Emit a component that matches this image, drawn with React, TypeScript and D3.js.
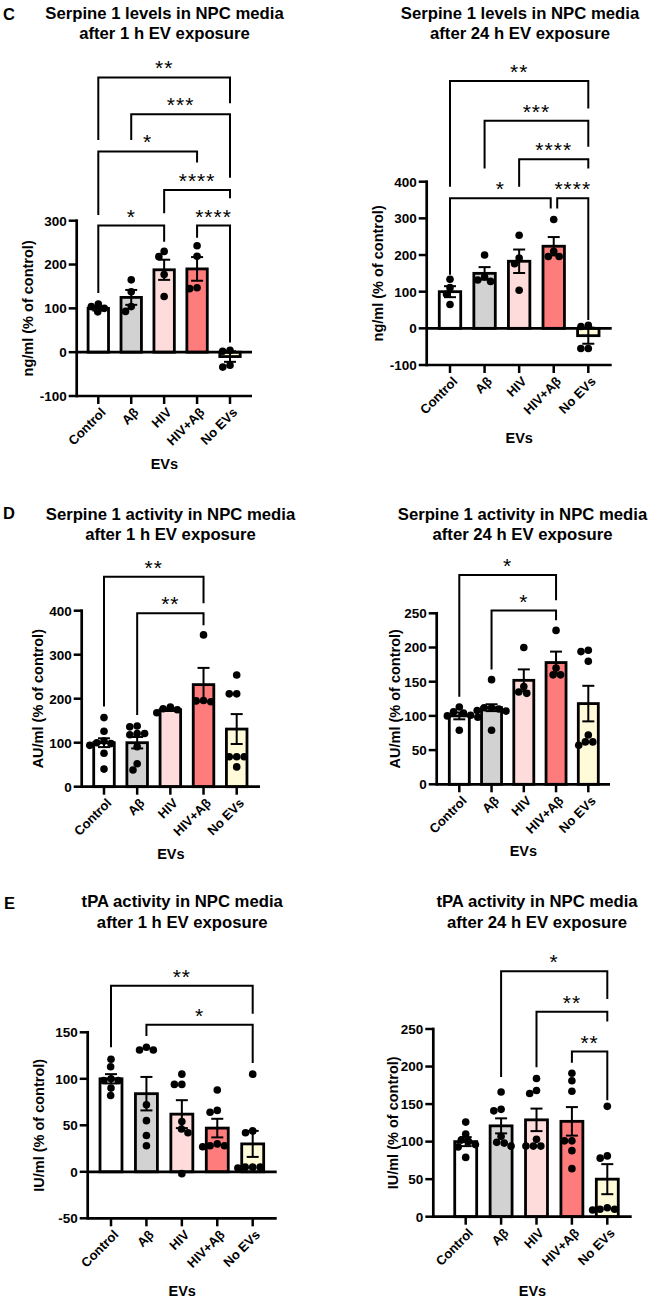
import React from 'react';
import * as d3 from 'd3';

const categories = ['Control', 'Aβ', 'HIV', 'HIV+Aβ', 'No EVs'];
const barColors = ['#ffffff', '#d2d2d2', '#ffdcdc', '#ff7c7c', '#fffbd9'];

// ---- Panel C, 1 h ----
const c1Points = [[92, 100, 104, 110], [93, 104, 138, 165], [218, 127, 177, 230], [219, 145, 243, 147], [2, 4, -34, -30]];
const c1Means = [100, 125, 188, 190, -10];
const c1Sems = [5, 17, 23, 27, 12];
const c1Ticks = [-100, 0, 100, 200, 300];
const c1Brackets = [
  { from: 0, to: 4, label: '**', level: 627, leftEnd: 484, rightEnd: 568 },
  { from: 1, to: 4, label: '***', level: 543, leftEnd: 484, rightEnd: 398 },
  { from: 0, to: 3, label: '*', level: 458, leftEnd: 313, rightEnd: 433 },
  { from: 2, to: 4, label: '****', level: 370, leftEnd: 317, rightEnd: 351 },
  { from: 0, to: 2, label: '*', level: 289, leftEnd: 135, rightEnd: 252 },
  { from: 3, to: 4, label: '****', level: 289, leftEnd: 261, rightEnd: 22 },
];

// ---- Panel C, 24 h ----
const c2Points = [[111, 134, 93, 65], [200, 132, 140, 128], [254, 192, 176, 104], [297, 196, 210, 196], [5, 8, -55, -55]];
const c2Means = [100, 150, 183, 224, -20];
const c2Sems = [15, 17, 32, 25, 22];
const c2Ticks = [-100, 0, 100, 200, 300, 400];
const c2Brackets = [
  { from: 0, to: 4, label: '**', level: 675, leftEnd: 386, rightEnd: 600 },
  { from: 1, to: 4, label: '***', level: 566, leftEnd: 436, rightEnd: 495 },
  { from: 2, to: 4, label: '****', level: 461, leftEnd: 386, rightEnd: 436 },
  { from: 0, to: 3, label: '*', level: 355, leftEnd: 146, rightEnd: 327, dxRight: -3 },
  { from: 3, to: 4, label: '****', level: 355, leftEnd: 327, rightEnd: 23, dxLeft: 3.5 },
];

// ---- Panel D, 1 h ----
const d1Points = [[157, 126, 104, 100, 98, 94, 76, 40], [138, 136, 121, 121, 118, 91, 52, 38], [181, 177, 175, 168], [345, 193, 195, 196], [254, 211, 211, 68, 68, 68, 45]];
const d1Means = [100, 100, 175, 232, 131];
const d1Sems = [10, 13, 3, 38, 34];
const d1Ticks = [0, 100, 200, 300, 400];
const d1Brackets = [
  { from: 0, to: 3, label: '**', level: 477, leftEnd: 182, rightEnd: 417 },
  { from: 1, to: 3, label: '**', level: 394, leftEnd: 163, rightEnd: 367 },
];

// ---- Panel D, 24 h ----
const d2Points = [[113, 106, 104, 101, 100, 98, 79], [153, 112, 110, 112, 108, 107, 79], [200, 143, 133, 135], [225, 170, 160, 160], [196, 194, 180, 72, 57, 62, 62]];
const d2Means = [100, 112, 152, 178, 118];
const d2Sems = [5, 5, 16, 16, 26];
const d2Ticks = [0, 50, 100, 150, 200, 250];
const d2Brackets = [
  { from: 0, to: 3, label: '*', level: 306, leftEnd: 128, rightEnd: 269 },
  { from: 1, to: 3, label: '*', level: 254, leftEnd: 168, rightEnd: 240 },
];

// ---- Panel E, 1 h ----
const e1Points = [[121, 113, 100, 98, 98, 90, 82], [131, 134, 131, 72, 55, 39, 28], [105, 94, 94, 54, 46, 42, -2], [88, 64, 66, 30, 28, 28, 27], [105, 42, 44, 5, 5, 5, 4]];
const e1Means = [100, 84, 62, 47, 30];
const e1Sems = [5, 18, 15, 10, 14];
const e1Ticks = [-50, 0, 50, 100, 150];
const e1Brackets = [
  { from: 0, to: 4, label: '**', level: 200, leftEnd: 134, rightEnd: 170 },
  { from: 1, to: 4, label: '*', level: 158, leftEnd: 146, rightEnd: 117 },
];

// ---- Panel E, 24 h ----
const e2Points = [[126, 110, 102, 100, 96, 93, 79], [166, 141, 143, 94, 99, 107, 98], [184, 164, 168, 103, 94, 94, 94], [191, 181, 167, 101, 101, 88, 64], [147, 78, 81, 12, 10, 9, 10]];
const e2Means = [100, 121, 129, 127, 50];
const e2Sems = [6, 10, 15, 19, 20];
const e2Ticks = [0, 50, 100, 150, 200, 250];
const e2Brackets = [
  { from: 1, to: 4, label: '*', level: 327, leftEnd: 186, rightEnd: 290 },
  { from: 2, to: 4, label: '**', level: 273, leftEnd: 199, rightEnd: 260 },
  { from: 3, to: 4, label: '**', level: 220, leftEnd: 205, rightEnd: 155 },
];

const FONT = '"Liberation Sans", Arial, Helvetica, sans-serif';

const panels = [
  {
    letter: 'C', letterPos: [3, 19.5], title: ['Serpine 1 levels in NPC media', 'after 1 h EV exposure'], titleCx: 164.5, titleY: [19.3, 39.3],
    yTitle: 'ng/ml (% of control)', yTitleX: 28, evsY: 469,
    axisX: 76.7, axisEnd: 252, yBottom: 396, yTop: 220.7, centers: [98.3, 230],
    points: c1Points, means: c1Means, sems: c1Sems, ticks: c1Ticks, brackets: c1Brackets,
  },
  {
    letter: '', title: ['Serpine 1 levels in NPC media', 'after 24 h EV exposure'], titleCx: 520, titleY: [19.3, 39.3],
    yTitle: 'ng/ml (% of control)', yTitleX: 378.3, evsY: 443,
    axisX: 426.7, axisEnd: 611.7, yBottom: 365, yTop: 181.7, centers: [450, 588.3],
    points: c2Points, means: c2Means, sems: c2Sems, ticks: c2Ticks, brackets: c2Brackets,
  },
  {
    letter: 'D', letterPos: [3, 519], title: ['Serpine 1 activity in NPC media', 'after 1 h EV exposure'], titleCx: 170.5, titleY: [520, 539.5],
    yTitle: 'AU/ml (% of control)', yTitleX: 38.3, evsY: 859,
    axisX: 81.7, axisEnd: 260, yBottom: 786.7, yTop: 610.7, centers: [104, 236.7],
    points: d1Points, means: d1Means, sems: d1Sems, ticks: d1Ticks, brackets: d1Brackets,
  },
  {
    letter: '', title: ['Serpine 1 activity in NPC media', 'after 24 h EV exposure'], titleCx: 522.5, titleY: [520, 539.5],
    yTitle: 'AU/ml (% of control)', yTitleX: 395, evsY: 856,
    axisX: 436.7, axisEnd: 610, yBottom: 784.3, yTop: 613.3, centers: [459.3, 588.3],
    points: d2Points, means: d2Means, sems: d2Sems, ticks: d2Ticks, brackets: d2Brackets,
  },
  {
    letter: 'E', letterPos: [4, 909], title: ['tPA activity in NPC media', 'after 1 h EV exposure'], titleCx: 182.2, titleY: [907.3, 928.3],
    yTitle: 'IU/ml (% of control)', yTitleX: 39.3, evsY: 1296,
    axisX: 87.7, axisEnd: 276.7, yBottom: 1218.3, yTop: 1032.3, centers: [111, 252.7],
    points: e1Points, means: e1Means, sems: e1Sems, ticks: e1Ticks, brackets: e1Brackets,
  },
  {
    letter: '', title: ['tPA activity in NPC media', 'after 24 h EV exposure'], titleCx: 537, titleY: [907.3, 928.3],
    yTitle: 'IU/ml (% of control)', yTitleX: 393.3, evsY: 1296,
    axisX: 433.3, axisEnd: 631.7, yBottom: 1216.7, yTop: 1029, centers: [465.7, 607.3],
    points: e2Points, means: e2Means, sems: e2Sems, ticks: e2Ticks, brackets: e2Brackets,
  },
];

const R = 3.8;

// simple beeswarm: keep points as close as possible to the centre line
function swarm(ys: number[], r: number): number[] {
  const idx = ys.map((_, i) => i).sort((a, b) => ys[a] - ys[b]);
  const placed: { x: number; y: number }[] = [];
  const out = new Array(ys.length).fill(0);
  const minD = 2 * r * 0.98;
  for (const i of idx) {
    const py = ys[i];
    const cands = [0];
    for (const p of placed) {
      const dy = Math.abs(p.y - py);
      if (dy < minD) {
        const w = Math.sqrt(minD * minD - dy * dy);
        cands.push(p.x + w, p.x - w);
      }
    }
    cands.sort((a, b) => Math.abs(a) - Math.abs(b) || a - b);
    let chosen = 0;
    for (const c of cands) {
      const ok = placed.every((p) => (p.x - c) ** 2 + (p.y - py) ** 2 >= minD * minD - 0.01);
      if (ok) { chosen = c; break; }
    }
    placed.push({ x: chosen, y: py });
    out[i] = chosen;
  }
  return out;
}

function Panel({ cfg }: { cfg: any }) {
  const ticks: number[] = cfg.ticks;
  const y = d3.scaleLinear().domain([ticks[0], ticks[ticks.length - 1]]).range([cfg.yBottom, cfg.yTop]);
  const x = d3.scalePoint<string>().domain(categories).range(cfg.centers);
  const step = x.step();
  const bw = step * 0.62;
  const zeroY = y(0);
  const bottomY = y(ticks[0]);
  const tickLen = 8;
  const plotMidY = (cfg.yBottom + cfg.yTop) / 2;
  const plotMidX = (cfg.axisX + cfg.axisEnd) / 2;
  return (
    <g>
      {cfg.letter ? (
        <text x={cfg.letterPos[0]} y={cfg.letterPos[1]} fontSize={16.5} fontWeight="bold" fontFamily={FONT}>{cfg.letter}</text>
      ) : null}
      {cfg.title.map((t: string, i: number) => (
        <text key={i} x={cfg.titleCx} y={cfg.titleY[i]} fontSize={16.7} fontWeight="bold" fontFamily={FONT} textAnchor="middle">{t}</text>
      ))}
      {/* bars */}
      {categories.map((c, i) => {
        const m = cfg.means[i];
        const y0 = Math.min(y(m), zeroY);
        const h = Math.abs(y(m) - zeroY);
        return (
          <rect key={c} x={(x(c) as number) - bw / 2} y={y0} width={bw} height={h}
            fill={barColors[i]} stroke="#000" strokeWidth={2.8} />
        );
      })}
      {/* error bars */}
      {categories.map((c, i) => {
        const cx = x(c) as number;
        const m = cfg.means[i];
        const s = cfg.sems[i];
        const yt = y(m + s);
        const yb = y(m - s);
        return (
          <g key={c} stroke="#000" strokeWidth={2}>
            <line x1={cx} x2={cx} y1={yt} y2={yb} />
            <line x1={cx - 6} x2={cx + 6} y1={yt} y2={yt} />
            <line x1={cx - 6} x2={cx + 6} y1={yb} y2={yb} />
          </g>
        );
      })}
      {/* points */}
      {categories.map((c, i) => {
        const cx = x(c) as number;
        const pys = (cfg.points[i] as number[]).map((v) => y(v));
        const offs = swarm(pys, R);
        return pys.map((py, j) => <circle key={c + j} cx={cx + offs[j]} cy={py} r={R} fill="#000" />);
      })}
      {/* y axis */}
      <line x1={cfg.axisX} x2={cfg.axisX} y1={y(ticks[ticks.length - 1])} y2={bottomY} stroke="#000" strokeWidth={2.7} strokeLinecap="square" />
      {ticks.map((t) => (
        <g key={t}>
          <line x1={cfg.axisX - tickLen} x2={cfg.axisX} y1={y(t)} y2={y(t)} stroke="#000" strokeWidth={2.5} />
          <text x={cfg.axisX - tickLen - 2} y={y(t)} dy="0.36em" fontSize={13.5} fontWeight="bold" fontFamily={FONT} textAnchor="end">{t}</text>
        </g>
      ))}
      {/* zero line when there are negatives */}
      {ticks[0] < 0 ? (
        <line x1={cfg.axisX} x2={cfg.axisEnd} y1={zeroY} y2={zeroY} stroke="#000" strokeWidth={2.7} />
      ) : null}
      {/* x axis */}
      <line x1={cfg.axisX} x2={cfg.axisEnd} y1={bottomY} y2={bottomY} stroke="#000" strokeWidth={2.7} />
      {categories.map((c) => (
        <line key={c} x1={x(c)} x2={x(c)} y1={bottomY} y2={bottomY + tickLen} stroke="#000" strokeWidth={2.5} />
      ))}
      {categories.map((c) => (
        <text key={c} transform={`translate(${(x(c) as number) + 5},${bottomY + 14}) rotate(-45)`} dy="0.35em"
          fontSize={13} fontWeight="bold" fontFamily={FONT} textAnchor="end">{c}</text>
      ))}
      <text x={plotMidX} y={cfg.evsY} fontSize={14.5} fontWeight="bold" fontFamily={FONT} textAnchor="middle">EVs</text>
      <text transform={`translate(${cfg.yTitleX},${plotMidY}) rotate(-90)`} dy="0.35em" fontSize={14.5} fontWeight="bold"
        fontFamily={FONT} textAnchor="middle">{cfg.yTitle}</text>
      {/* significance brackets */}
      {cfg.brackets.map((b: any, k: number) => {
        const xl = (x(categories[b.from]) as number) + (b.dxLeft || 0);
        const xr = (x(categories[b.to]) as number) + (b.dxRight || 0);
        const yl = y(b.level);
        return (
          <g key={k}>
            <path d={`M${xl},${y(b.leftEnd)}V${yl}H${xr}V${y(b.rightEnd)}`} fill="none" stroke="#000" strokeWidth={2} />
            <text x={(xl + xr) / 2} y={yl - 2} fontSize={21} fontFamily={FONT} textAnchor="middle" letterSpacing={1}>{b.label}</text>
          </g>
        );
      })}
    </g>
  );
}

export default function App() {
  return (
    <svg width={649} height={1303} viewBox="0 0 649 1303"
      style={{ position: 'absolute', left: 0, top: 0, display: 'block', background: '#fff' }}>
      <rect x={0} y={0} width={649} height={1303} fill="#fff" />
      {panels.map((p, i) => <Panel key={i} cfg={p} />)}
    </svg>
  );
}
